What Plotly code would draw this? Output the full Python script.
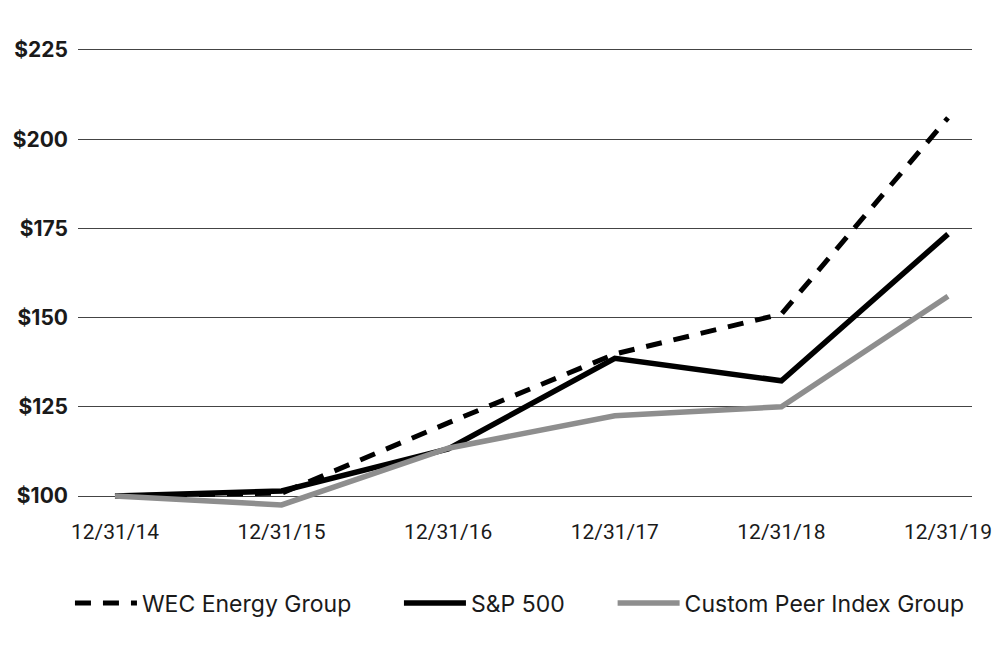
import plotly.graph_objects as go

dates = ["12/31/14", "12/31/15", "12/31/16", "12/31/17", "12/31/18", "12/31/19"]
wec = [100, 100.8, 120.5, 139.8, 151.0, 206.0]
sp500 = [100, 101.4, 113.2, 138.6, 132.3, 173.4]
peer = [100, 97.5, 113.4, 122.5, 125.0, 156.0]
y_ticks = [100, 125, 150, 175, 200, 225]
y_labels = ["$100", "$125", "$150", "$175", "$200", "$225"]

xi = list(range(len(dates)))

fig = go.Figure()
fig.add_trace(go.Scatter(x=xi, y=wec, mode="lines", name="WEC Energy Group", legend="legend",
                         line=dict(color="#000000", width=5, dash="16px,12px")))
fig.add_trace(go.Scatter(x=xi, y=sp500, mode="lines", name="S&P 500", legend="legend2",
                         line=dict(color="#000000", width=5.5)))
fig.add_trace(go.Scatter(x=xi, y=peer, mode="lines", name="Custom Peer Index Group", legend="legend3",
                         line=dict(color="#8e8e8e", width=5.5)))

legfont = dict(family="Inter", size=23, color="#1a1a1a")
common = dict(orientation="h", xanchor="left", y=-0.189, yanchor="middle",
              font=legfont, itemwidth=62, bgcolor="rgba(0,0,0,0)")

fig.update_layout(
    template="none",
    width=992, height=659,
    margin=dict(l=70, r=28, t=35, b=153),
    plot_bgcolor="white", paper_bgcolor="white",
    font=dict(family="Roboto", color="#1a1a1a"),
    showlegend=True,
    legend=dict(x=-0.009, **common),
    legend2=dict(x=0.359, **common),
    legend3=dict(x=0.598, **common),
    xaxis=dict(range=[-0.222, 5.144], tickvals=xi, ticktext=dates, automargin=False,
               showgrid=False, zeroline=False, showline=False,
               tickfont=dict(family="Roboto", size=21, color="#1a1a1a"),
               ticks="", ticklabelstandoff=3),
    yaxis=dict(range=[94.96, 226.96], tickvals=y_ticks, ticktext=y_labels, automargin=False,
               showgrid=True, gridcolor="#444444", gridwidth=1,
               zeroline=False, showline=False, ticks="",
               tickfont=dict(family="Inter", size=21, color="#1a1a1a", weight=700),
               ticklabelstandoff=9),
)

fig.write_html("out.html")
